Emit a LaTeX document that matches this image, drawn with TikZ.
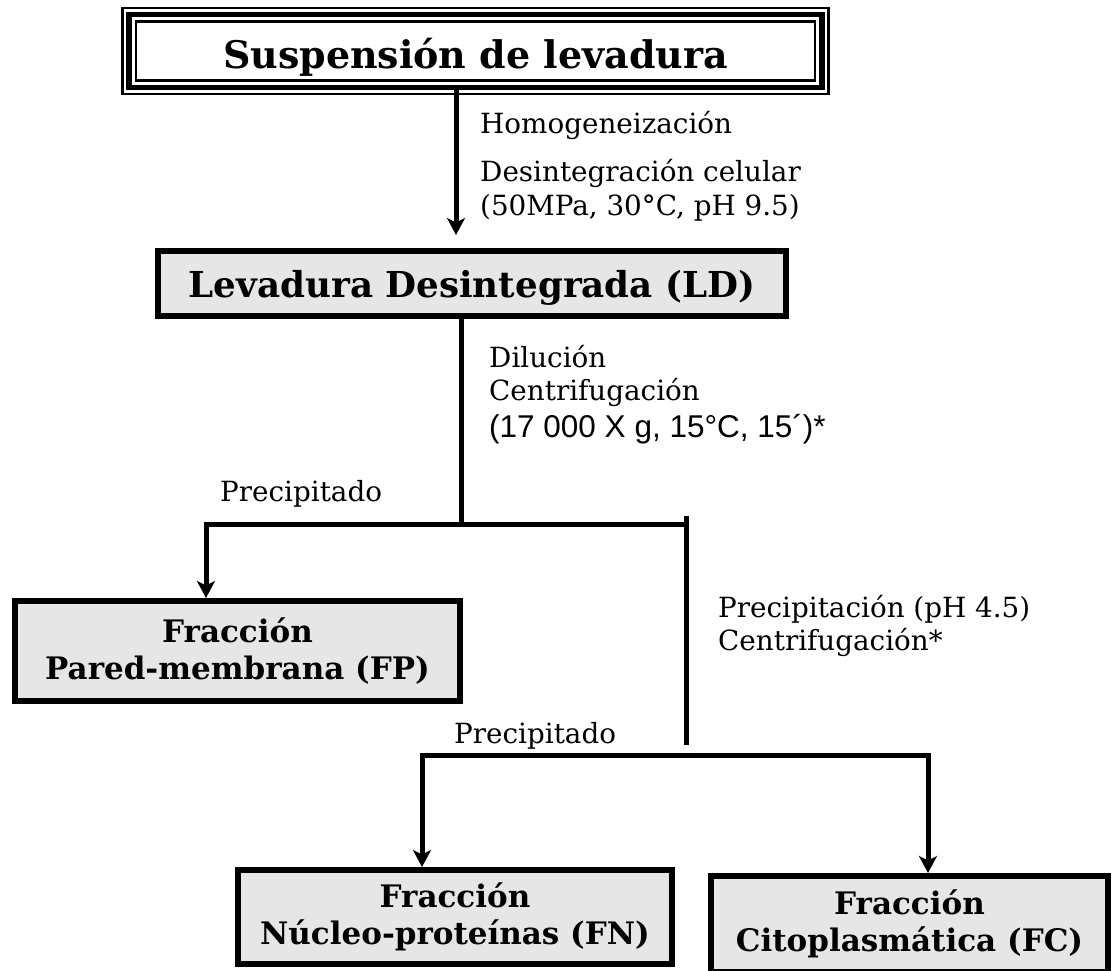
\documentclass[tikz,border=0pt]{standalone}
\usepackage{fontspec}
\setmainfont{DejaVu Serif}
\newfontfamily\arialfont{Liberation Sans}
\usetikzlibrary{arrows.meta,calc}
\definecolor{boxgray}{HTML}{E6E6E6}
\tikzset{
  headbox/.style={draw=black, fill=white, line width=5.5pt, outer sep=0pt,
    inner sep=0pt, font=\bfseries\fontsize{38}{42}\selectfont,
    text height=43pt, text depth=8pt},
  thinframe/.style={line width=2.2pt},
  stagebox/.style={draw=black, fill=boxgray, line width=6pt, inner sep=0pt,
    align=center, font=\bfseries\fontsize{35.7}{40}\selectfont,
    text height=36pt, text depth=8pt},
  fracbox/.style={draw=black, fill=boxgray, line width=6pt, inner sep=0pt,
    align=center, font=\bfseries\fontsize{31}{37}\selectfont},
  link/.style={line width=5pt},
  flow/.style={link, -{Stealth[length=17pt, width=18pt, inset=4.5pt]}},
  twoflow/.style={link, {Stealth[length=17pt, width=18pt, inset=4.5pt]}-{Stealth[length=17pt, width=18pt, inset=4.5pt]}},
  steptext/.style={anchor=base west, inner sep=0pt, font=\fontsize{27.8}{33}\selectfont},
  condtext/.style={steptext, font=\arialfont\fontsize{31.5}{36}\selectfont},
}

\begin{document}
\begin{tikzpicture}[x=1pt,y=-1pt]
  \useasboundingbox (0,0) rectangle (1113,970);
  % starting material, triple frame
  \node[headbox, minimum width=693pt, minimum height=73pt] (susp) at (475.5,51) {Suspensión de levadura};
  \draw[thinframe] ([shift={(-6.5,-6.5)}]susp.north west) rectangle ([shift={(6.5,6.5)}]susp.south east);
  \draw[thinframe] ([shift={(7,7)}]susp.north west) rectangle ([shift={(-7,-7)}]susp.south east);
  % stages
  \node[stagebox, minimum width=628pt, minimum height=65pt] (ld) at (472,283.5) {Levadura Desintegrada (LD)};
  \node[fracbox, minimum width=445pt, minimum height=100pt] (fp) at (237.5,651) {Fracción\\Pared-membrana (FP)};
  \node[fracbox, minimum width=434pt, minimum height=94pt] (fn) at (455,917) {Fracción\\Núcleo-proteínas (FN)};
  \node[fracbox, minimum width=397pt, minimum height=96pt] (fc) at (909.5,924) {Fracción\\Citoplasmática (FC)};
  % junctions
  \coordinate (s1) at (456,0);
  \coordinate (j1) at (461,524);
  \coordinate (a1) at (206,524);
  \coordinate (a2) at (686,524);
  \coordinate (j2) at (686,516);
  \coordinate (j3) at (686,745);
  \coordinate (b1) at (422,755);
  \coordinate (b2) at (928,755);
  % connectors
  \draw[flow, shorten >=13pt] (susp.south -| s1) -- (ld.north -| s1);
  \draw[link] (ld.south -| j1) -- (j1);
  \draw[flow] (a2) -- (a1) -- (fp.north -| a1);
  \draw[link] (j2) -- (j3);
  \draw[twoflow] (fn.north -| b1) -- (b1) -- (b2) -- (fc.north -| b2);
  % step labels
  \node[steptext] (hom) at (480,133) {Homogeneización};
  \node[steptext] (des) at (480,181) {Desintegración celular};
  \node[steptext] (cond1) at (480,215) {(50MPa, 30°C, pH 9.5)};
  \node[steptext] (dil) at (489,367) {Dilución};
  \node[steptext] (cen1) at (489,400) {Centrifugación};
  \node[condtext] (cond2) at (489,437) {(17 000 X g, 15°C, 15´)*};
  \node[steptext] (pre1) at (220,501) {Precipitado};
  \node[steptext] (pph) at (718,617) {Precipitación (pH 4.5)};
  \node[steptext] (cen2) at (718,650) {Centrifugación*};
  \node[steptext] (pre2) at (454,743) {Precipitado};
\end{tikzpicture}
\end{document}
